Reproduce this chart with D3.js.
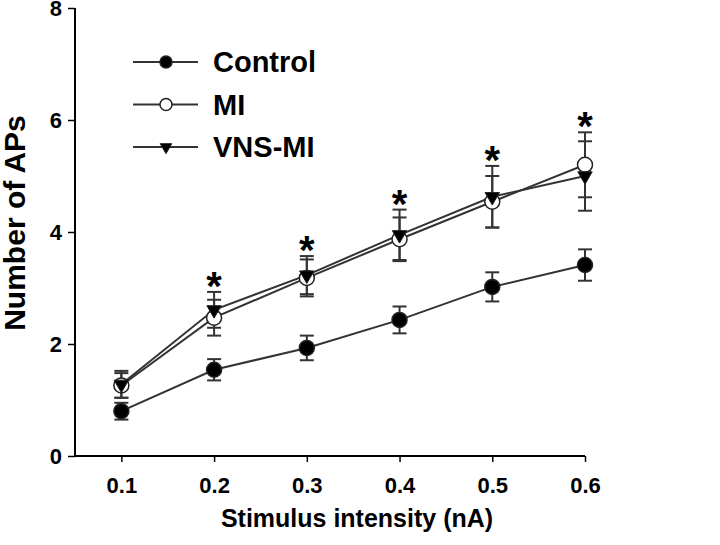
<!DOCTYPE html>
<html>
<head>
<meta charset="utf-8">
<script src="https://cdn.jsdelivr.net/npm/d3@7"></script>
<style>
  body { margin: 0; background: #fff; }
  text { font-family: "Liberation Sans", Arial, sans-serif; font-weight: bold; }
</style>
</head>
<body>
<div class="draw-chart"></div>
<script>
// stimulus intensity (nA)
const intensity = [0.1, 0.2, 0.3, 0.4, 0.5, 0.6];

const controlMean = [0.80, 1.54, 1.93, 2.43, 3.02, 3.41];
const controlErr = [0.15, 0.19, 0.22, 0.24, 0.26, 0.28];

const miMean = [1.26, 2.47, 3.18, 3.87, 4.54, 5.2];
const miErr = [0.22, 0.32, 0.33, 0.39, 0.46, 0.58];

const vnsMean = [1.28, 2.61, 3.23, 3.95, 4.63, 5.0];
const vnsErr = [0.24, 0.32, 0.34, 0.45, 0.55, 0.62];

const significance = ["", "*", "*", "*", "*", "*"];

const xTicks = [0.1, 0.2, 0.3, 0.4, 0.5, 0.6];
const yTicks = [0, 2, 4, 6, 8];

const series = [
  { name: "Control", mean: controlMean, err: controlErr, shape: "circle", fill: "#000" },
  { name: "MI", mean: miMean, err: miErr, shape: "circle", fill: "#fff" },
  { name: "VNS-MI", mean: vnsMean, err: vnsErr, shape: "triangle", fill: "#000" },
];

const draw = () => {
  const width = 720, height = 545;
  const svg = d3.select(".draw-chart").append("svg")
    .attr("width", width)
    .attr("height", height);

  const x = d3.scaleLinear().domain([0.05, 0.6]).range([75, 585]);
  const y = d3.scaleLinear().domain([0, 8]).range([456, 8]);

  const lineColor = "#333";

  // X axis
  const xAxis = svg.append("g")
    .attr("transform", "translate(0," + y(0) + ")")
    .call(d3.axisBottom(x).tickValues(xTicks).tickSize(6).tickPadding(15).tickFormat(d3.format(".1f")));
  xAxis.select(".domain").attr("stroke-width", 2).attr("d", "M75,0H" + x(0.6));
  xAxis.selectAll(".tick line").attr("stroke-width", 1.5);
  xAxis.selectAll(".tick text").attr("font-size", 22).attr("fill", "#000");

  // Y axis
  const yAxis = svg.append("g")
    .attr("transform", "translate(" + x(0.05) + ",0)")
    .call(d3.axisLeft(y).tickValues(yTicks).tickSize(7).tickPadding(6));
  yAxis.select(".domain").attr("stroke-width", 2).attr("d", "M0," + y(8) + "V" + y(0));
  yAxis.selectAll(".tick line").attr("stroke-width", 1.5);
  yAxis.selectAll(".tick text").attr("font-size", 22).attr("fill", "#000");

  // axis titles
  svg.append("text")
    .attr("x", (x(0.05) + x(0.6)) / 2 + 27)
    .attr("y", 527)
    .attr("text-anchor", "middle")
    .attr("font-size", 25)
    .text("Stimulus intensity (nA)");

  svg.append("text")
    .attr("transform", "translate(25," + 223 + ") rotate(-90)")
    .attr("text-anchor", "middle")
    .attr("font-size", 30)
    .text("Number of APs");

  const line = d3.line()
    .x((d, i) => x(intensity[i]))
    .y(d => y(d));

  const tri = d3.symbol().type(d3.symbolTriangle);

  const drawMarker = (g, s, cx, cy, r) => {
    if (s.shape === "circle") {
      g.append("circle")
        .attr("cx", cx).attr("cy", cy).attr("r", r)
        .attr("fill", s.fill)
        .attr("stroke", "#222").attr("stroke-width", 1.5);
    } else {
      g.append("path")
        .attr("d", tri.size(r * r * 1.6)())
        .attr("transform", "translate(" + cx + "," + cy + ") rotate(180)")
        .attr("fill", s.fill)
        .attr("stroke", "#222").attr("stroke-width", 1);
    }
  };

  // lines + error bars for each series
  series.forEach(s => {
    const g = svg.append("g");
    g.append("path")
      .datum(s.mean)
      .attr("fill", "none")
      .attr("stroke", lineColor)
      .attr("stroke-width", 2)
      .attr("d", line);

    s.mean.forEach((m, i) => {
      const cx = x(intensity[i]);
      const y0 = y(m - s.err[i]), y1 = y(m + s.err[i]);
      g.append("line").attr("x1", cx).attr("x2", cx).attr("y1", y0).attr("y2", y1)
        .attr("stroke", lineColor).attr("stroke-width", 2);
      [y0, y1].forEach(yy => {
        g.append("line").attr("x1", cx - 7).attr("x2", cx + 7).attr("y1", yy).attr("y2", yy)
          .attr("stroke", lineColor).attr("stroke-width", 2);
      });
    });
  });

  // markers on top
  series.forEach(s => {
    const g = svg.append("g");
    s.mean.forEach((m, i) => drawMarker(g, s, x(intensity[i]), y(m), 7.5));
  });

  // significance stars
  significance.forEach((lab, i) => {
    if (!lab) return;
    const top = d3.max(series, s => s.mean[i] + s.err[i]);
    svg.append("text")
      .attr("x", x(intensity[i]))
      .attr("y", y(top) + 8)
      .attr("text-anchor", "middle")
      .attr("font-size", 40)
      .text(lab);
  });

  // legend
  const legend = svg.append("g");
  series.forEach((s, i) => {
    const ly = 62 + i * 42.5;
    legend.append("line").attr("x1", 133).attr("x2", 198).attr("y1", ly).attr("y2", ly)
      .attr("stroke", lineColor).attr("stroke-width", 2);
    drawMarker(legend, s, 166, ly, 6);
    legend.append("text")
      .attr("x", 213).attr("y", ly + 10)
      .attr("font-size", 29)
      .text(s.name);
  });
};

draw();
</script>
</body>
</html>
